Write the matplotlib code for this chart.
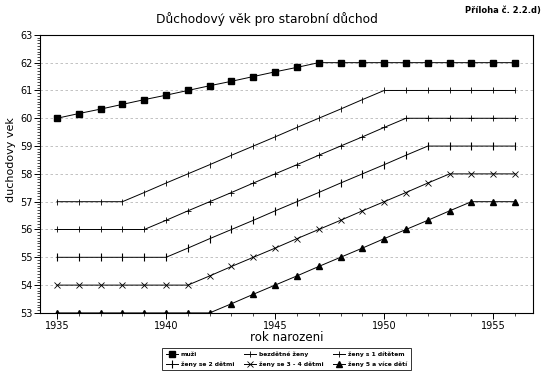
import numpy as np
import matplotlib
matplotlib.use("Agg")
import matplotlib.pyplot as plt
from matplotlib.ticker import MultipleLocator

# -----------------------------
# Data
# -----------------------------
years = list(range(1935, 1957))

muzi = [60.0, 60.17, 60.33, 60.5, 60.67, 60.83, 61.0, 61.17, 61.33, 61.5, 61.67,
        61.83, 62.0, 62.0, 62.0, 62.0, 62.0, 62.0, 62.0, 62.0, 62.0, 62.0]
bezdetne = [57.0, 57.0, 57.0, 57.0, 57.33, 57.67, 58.0, 58.33, 58.67, 59.0, 59.33,
            59.67, 60.0, 60.33, 60.67, 61.0, 61.0, 61.0, 61.0, 61.0, 61.0, 61.0]
s1 = [56.0, 56.0, 56.0, 56.0, 56.0, 56.33, 56.67, 57.0, 57.33, 57.67, 58.0,
      58.33, 58.67, 59.0, 59.33, 59.67, 60.0, 60.0, 60.0, 60.0, 60.0, 60.0]
s2 = [55.0, 55.0, 55.0, 55.0, 55.0, 55.0, 55.33, 55.67, 56.0, 56.33, 56.67,
      57.0, 57.33, 57.67, 58.0, 58.33, 58.67, 59.0, 59.0, 59.0, 59.0, 59.0]
s34 = [54.0, 54.0, 54.0, 54.0, 54.0, 54.0, 54.0, 54.33, 54.67, 55.0, 55.33,
       55.67, 56.0, 56.33, 56.67, 57.0, 57.33, 57.67, 58.0, 58.0, 58.0, 58.0]
s5 = [53.0, 53.0, 53.0, 53.0, 53.0, 53.0, 53.0, 53.0, 53.33, 53.67, 54.0,
      54.33, 54.67, 55.0, 55.33, 55.67, 56.0, 56.33, 56.67, 57.0, 57.0, 57.0]

labels = ["muži", "bezdětné ženy", "ženy s 1 dítětem",
          "ženy se 2 dětmi", "ženy se 3 - 4 dětmi", "ženy 5 a více dětí"]

# -----------------------------
# Plot
# -----------------------------
fig = plt.figure(figsize=(5.44, 3.83), dpi=100)
ax = fig.add_axes([0.0735, 0.183, 0.9065, 0.726])

for v in range(54, 63):
    ax.axhline(v, color="#b8b8b8", lw=0.6, ls=(0, (3, 3)), zorder=0)

lw = 0.7
h_m, = ax.plot(years, muzi, color="black", lw=lw, marker="s", ms=4)
h_b, = ax.plot(years, bezdetne, color="black", lw=lw, marker="|", ms=5, mew=0.6)
h_1, = ax.plot(years, s1, color="black", lw=lw, marker="+", ms=4, mew=0.6)
h_2, = ax.plot(years, s2, color="black", lw=lw, marker="|", ms=6, mew=0.8)
h_3, = ax.plot(years, s34, color="black", lw=lw, marker="x", ms=4, mew=0.6)
h_5, = ax.plot(years, s5, color="black", lw=lw, marker="^", ms=4.5)

ax.set_xlim(1934.22, 1956.83)
ax.set_ylim(53, 63)
ax.xaxis.set_major_locator(MultipleLocator(5))
ax.xaxis.set_minor_locator(MultipleLocator(1))
ax.yaxis.set_major_locator(MultipleLocator(1))
ax.yaxis.set_minor_locator(MultipleLocator(0.1))
ax.tick_params(axis="both", which="major", labelsize=7, length=4, width=0.7,
               direction="out", pad=1.5)
ax.tick_params(axis="both", which="minor", length=2.5, width=0.5, direction="out")
for s in ax.spines.values():
    s.set_linewidth(0.8)

ax.set_xlabel("rok narozeni", fontsize=8.5)
ax.xaxis.set_label_coords(0.5, -0.065)
ax.set_ylabel("duchodovy vek", fontsize=8)
ax.yaxis.set_label_coords(-0.048, 0.55)

fig.text(0.49, 0.94, "Důchodový věk pro starobní důchod", ha="center", fontsize=8.8)
fig.text(0.995, 0.965, "Příloha č. 2.2.d)", ha="right", fontsize=6, fontweight="bold")

handles = [h_m, h_2, h_b, h_3, h_1, h_5]
leg_labels = [labels[0], labels[3], labels[1], labels[4], labels[2], labels[5]]
leg = fig.legend(handles, leg_labels, ncol=3, loc="center",
                 bbox_to_anchor=(0.527, 0.062), fontsize=4.3, frameon=True,
                 fancybox=False, edgecolor="black", handlelength=2.0,
                 columnspacing=1.6, handletextpad=0.5, borderpad=0.6,
                 labelspacing=0.7)
leg.get_frame().set_linewidth(0.7)
for t in leg.get_texts():
    t.set_fontweight("bold")

fig.savefig("out.png", dpi=100)
